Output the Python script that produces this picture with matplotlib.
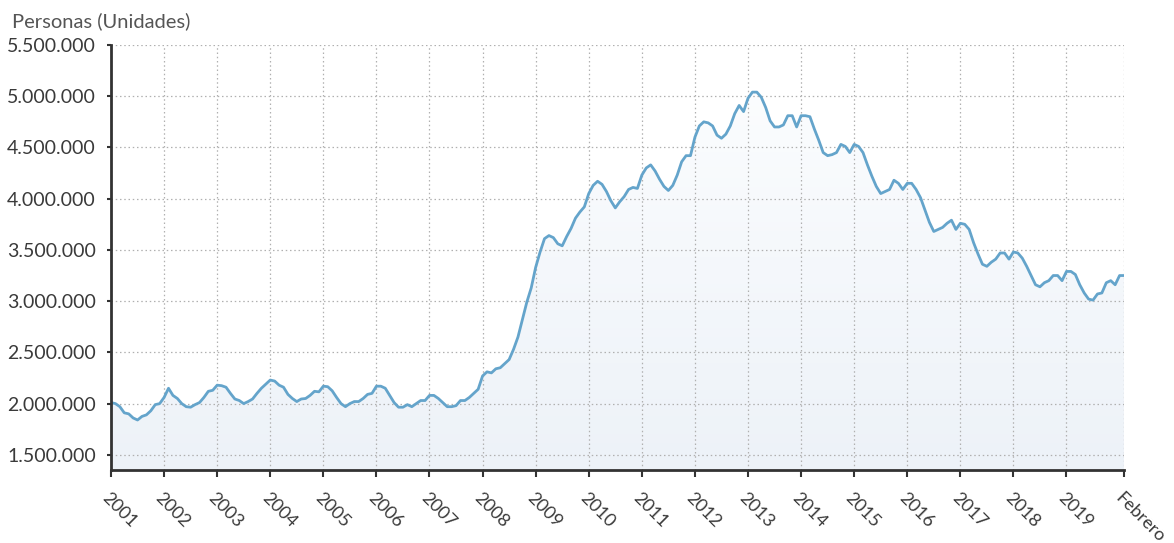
import numpy as np
import matplotlib
matplotlib.use("Agg")
import matplotlib.pyplot as plt
from matplotlib.colors import LinearSegmentedColormap
from matplotlib.ticker import FuncFormatter
from matplotlib.transforms import ScaledTranslation

plt.rcParams['font.family'] = ['Lato', 'DejaVu Sans']

# paro registrado, miles de personas, enero 2001 - febrero 2020
y2001 = [2010, 2000, 1970, 1910, 1900, 1860, 1840, 1875, 1890, 1930, 1990, 2000]
y2002 = [2060, 2150, 2080, 2050, 2000, 1970, 1965, 1990, 2010, 2060, 2120, 2130]
y2003 = [2180, 2175, 2160, 2100, 2045, 2030, 2000, 2020, 2045, 2100, 2150, 2190]
y2004 = [2230, 2220, 2180, 2160, 2090, 2050, 2020, 2045, 2050, 2080, 2120, 2115]
y2005 = [2170, 2165, 2125, 2060, 2000, 1970, 2000, 2020, 2020, 2050, 2090, 2100]
y2006 = [2170, 2170, 2150, 2080, 2010, 1965, 1965, 1990, 1970, 2000, 2030, 2030]
y2007 = [2080, 2080, 2050, 2010, 1970, 1970, 1980, 2030, 2030, 2060, 2100, 2140]
y2008 = [2270, 2310, 2300, 2340, 2350, 2390, 2430, 2530, 2650, 2820, 2990, 3130]
y2009 = [3330, 3480, 3610, 3640, 3620, 3560, 3540, 3630, 3710, 3810, 3870, 3920]
y2010 = [4050, 4130, 4170, 4140, 4070, 3980, 3910, 3970, 4020, 4090, 4110, 4100]
y2011 = [4230, 4300, 4330, 4270, 4190, 4120, 4080, 4130, 4230, 4360, 4420, 4420]
y2012 = [4600, 4710, 4750, 4740, 4710, 4620, 4590, 4630, 4710, 4830, 4910, 4850]
y2013 = [4980, 5040, 5040, 4990, 4890, 4760, 4700, 4700, 4720, 4810, 4810, 4700]
y2014 = [4810, 4810, 4800, 4680, 4570, 4450, 4420, 4430, 4450, 4530, 4510, 4450]
y2015 = [4530, 4510, 4450, 4330, 4220, 4120, 4050, 4070, 4090, 4180, 4150, 4090]
y2016 = [4150, 4150, 4090, 4010, 3890, 3770, 3680, 3700, 3720, 3760, 3790, 3700]
y2017 = [3760, 3750, 3700, 3570, 3460, 3360, 3340, 3380, 3410, 3470, 3470, 3410]
y2018 = [3480, 3470, 3420, 3340, 3250, 3160, 3140, 3180, 3200, 3250, 3250, 3200]
y2019 = [3290, 3290, 3260, 3160, 3080, 3020, 3010, 3070, 3080, 3180, 3200, 3160]
y2020 = [3250, 3250]

tick_labels = [str(a) for a in range(2001, 2020)] + ['Febrero']

paro = np.array(y2001 + y2002 + y2003 + y2004 + y2005 + y2006 + y2007 + y2008 +
                y2009 + y2010 + y2011 + y2012 + y2013 + y2014 + y2015 + y2016 +
                y2017 + y2018 + y2019 + y2020) * 1000.0
meses = np.arange(len(paro))
tick_pos = list(range(0, 12 * 19, 12)) + [meses[-1]]

ymin, ymax = 1352000, 5500000

fig = plt.figure(figsize=(11.74, 5.43), dpi=100)
ax = fig.add_axes([111 / 1174, 73 / 543, 1013 / 1174, 425 / 543])

# relleno con degradado bajo la linea
poly = ax.fill_between(meses, paro, ymin, color='none', lw=0)
cmap = LinearSegmentedColormap.from_list('relleno', ['#fdfeff', '#edf2f8'])
grad = np.linspace(0, 1, 256).reshape(-1, 1)
im = ax.imshow(grad, cmap=cmap, aspect='auto', origin='upper',
               extent=[meses[0], meses[-1], ymin, ymax], zorder=1)
im.set_clip_path(poly.get_paths()[0], transform=ax.transData)

ax.plot(meses, paro, color='#64a4cb', lw=2.0, zorder=3, solid_joinstyle='round')

ax.set_xlim(meses[0], meses[-1])
ax.set_ylim(ymin, ymax)

ax.set_yticks(np.arange(1500000, 5500001, 500000))
ax.yaxis.set_major_formatter(FuncFormatter(lambda v, p: f'{v:,.0f}'.replace(',', '.')))
ax.set_xticks(tick_pos)
ax.set_xticklabels(tick_labels)

ax.grid(True, color='#b0b0b0', lw=0.9, linestyle=(0, (1.2, 2.2)), zorder=2)
for side in ['top', 'right']:
    ax.spines[side].set_visible(False)
for side in ['left', 'bottom']:
    ax.spines[side].set_color('#333333')
    ax.spines[side].set_linewidth(2.0)
    ax.spines[side].set_zorder(4)

ax.tick_params(axis='y', length=3, width=1.5, color='#333333', pad=8,
               labelsize=14, labelcolor='#3a3a3a')
ax.tick_params(axis='x', length=5, width=1.5, color='#333333', pad=13,
               labelsize=13, labelcolor='#3a3a3a')

desplaza = ScaledTranslation(-6 / 100, 0, fig.dpi_scale_trans)
for lab in ax.get_xticklabels():
    lab.set_rotation(-45)
    lab.set_rotation_mode('anchor')
    lab.set_ha('left')
    lab.set_va('center')
    lab.set_transform(lab.get_transform() + desplaza)

fig.text(12 / 1174, 1 - 27 / 543, 'Personas (Unidades)', fontsize=14.5,
         color='#555555', va='baseline', ha='left')

fig.savefig('out.png', dpi=100)
